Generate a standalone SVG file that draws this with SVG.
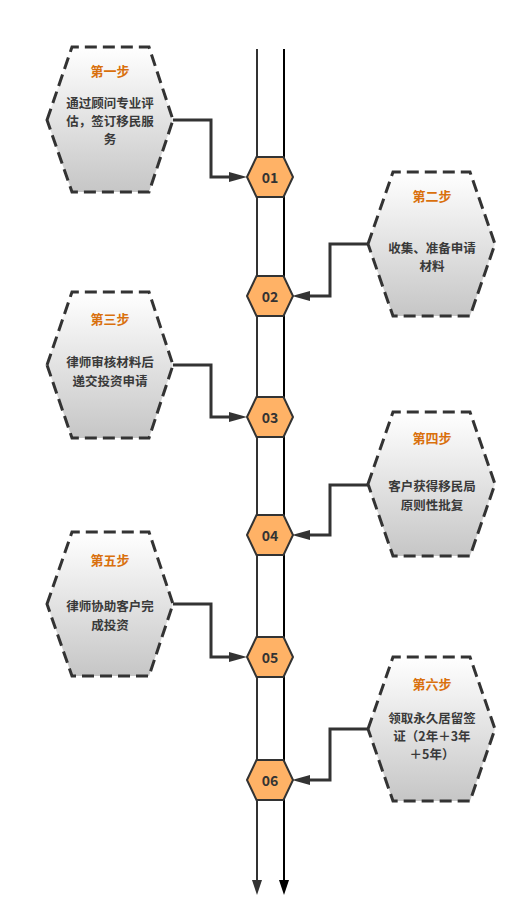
<svg xmlns="http://www.w3.org/2000/svg" width="527" height="924" viewBox="0 0 527 924">
<defs>
<linearGradient id="g" x1="0" y1="0" x2="0" y2="1">
<stop offset="0" stop-color="#ffffff"/>
<stop offset="1" stop-color="#c6c6c6"/>
</linearGradient>
<marker id="ah" markerUnits="userSpaceOnUse" markerWidth="18" markerHeight="10" refX="0" refY="5" orient="auto" viewBox="0 0 18 10">
<path d="M0,0 L18,5 L0,10 z" fill="#333"/>
</marker>
<marker id="ahd" markerUnits="userSpaceOnUse" markerWidth="15" markerHeight="10" refX="0" refY="5" orient="auto" viewBox="0 0 15 10">
<path d="M0,0 L15,5 L0,10 z" fill="#333"/>
</marker>
<marker id="ahk" markerUnits="userSpaceOnUse" markerWidth="15" markerHeight="10" refX="0" refY="5" orient="auto" viewBox="0 0 15 10">
<path d="M0,0 L15,5 L0,10 z" fill="#000"/>
</marker>
</defs>
<style>
.box{fill:url(#g);stroke:#333;stroke-width:3;stroke-dasharray:12 6;}
.hex{fill:#FFB266;stroke:#333;stroke-width:2;}
.t{font-family:"Noto Sans CJK SC","Liberation Sans",sans-serif;font-size:12.5px;font-weight:bold;text-anchor:middle;dominant-baseline:central;}
.title{fill:#D9700C;font-size:13px;}
.body{fill:#3a3a3a;}
.num{fill:#333;font-size:14px;}
.conn{fill:none;stroke:#333;stroke-width:3;}
</style>
<rect width="527" height="924" fill="#fff"/>
<g id="connectors">
<path d="M257,49 V880" stroke="#333" stroke-width="2" fill="none" marker-end="url(#ahd)"/>
<path d="M284,49 V880" stroke="#000" stroke-width="2" fill="none" marker-end="url(#ahk)"/>
<path class="conn" d="M173,120 H211 V177 H229" marker-end="url(#ah)"/>
<path class="conn" d="M368,244 H330 V296 H310" marker-end="url(#ah)"/>
<path class="conn" d="M173,365 H211 V417 H229" marker-end="url(#ah)"/>
<path class="conn" d="M368,485 H330 V535 H310" marker-end="url(#ah)"/>
<path class="conn" d="M173,604 H211 V657 H229" marker-end="url(#ah)"/>
<path class="conn" d="M368,729 H330 V780 H310" marker-end="url(#ah)"/>
</g>
<g id="n01"><polygon class="hex" points="247,177 256.5,157 283.5,157 293,177 283.5,197 256.5,197"/><text class="t num" x="270" y="177">01</text></g>
<g id="n02"><polygon class="hex" points="247,296 256.5,276 283.5,276 293,296 283.5,316 256.5,316"/><text class="t num" x="270" y="296">02</text></g>
<g id="n03"><polygon class="hex" points="247,417 256.5,397 283.5,397 293,417 283.5,437 256.5,437"/><text class="t num" x="270" y="417">03</text></g>
<g id="n04"><polygon class="hex" points="247,535 256.5,515 283.5,515 293,535 283.5,555 256.5,555"/><text class="t num" x="270" y="535">04</text></g>
<g id="n05"><polygon class="hex" points="247,657 256.5,637 283.5,637 293,657 283.5,677 256.5,677"/><text class="t num" x="270" y="657">05</text></g>
<g id="n06"><polygon class="hex" points="247,780 256.5,760 283.5,760 293,780 283.5,800 256.5,800"/><text class="t num" x="270" y="780">06</text></g>
<g id="step1"><polygon class="box" points="47,120 72,47 149,47 173,120 149,192 72,192"/>
<text class="t title" x="110" y="70">第一步</text>
<text class="t body"><tspan x="110" y="101.8">通过顾问专业评</tspan><tspan x="110" y="120">估，签订移民服</tspan><tspan x="110" y="138.2">务</tspan></text></g>
<g id="step2"><polygon class="box" points="368,244 393,172 470,172 495,244 470,316 393,316"/>
<text class="t title" x="432" y="195">第二步</text>
<text class="t body"><tspan x="432" y="246.9">收集、准备申请</tspan><tspan x="432" y="265.1">材料</tspan></text></g>
<g id="step3"><polygon class="box" points="47,365 72,292 149,292 173,365 149,438 72,438"/>
<text class="t title" x="110" y="318">第三步</text>
<text class="t body"><tspan x="110" y="361.4">律师审核材料后</tspan><tspan x="110" y="379.6">递交投资申请</tspan></text></g>
<g id="step4"><polygon class="box" points="368,484 393,412 470,412 495,484 470,556 393,556"/>
<text class="t title" x="432" y="437">第四步</text>
<text class="t body"><tspan x="432" y="485.4">客户获得移民局</tspan><tspan x="432" y="503.6">原则性批复</tspan></text></g>
<g id="step5"><polygon class="box" points="47,604 72,532 149,532 173,604 149,676 72,676"/>
<text class="t title" x="110" y="559">第五步</text>
<text class="t body"><tspan x="110" y="605.4">律师协助客户完</tspan><tspan x="110" y="623.6">成投资</tspan></text></g>
<g id="step6"><polygon class="box" points="368,729 393,657 470,657 495,729 470,801 393,801"/>
<text class="t title" x="432" y="683">第六步</text>
<text class="t body"><tspan x="432" y="716.8">领取永久居留签</tspan><tspan x="432" y="735">证（2年＋3年</tspan><tspan x="432" y="753.2">＋5年）</tspan></text></g>
</svg>
